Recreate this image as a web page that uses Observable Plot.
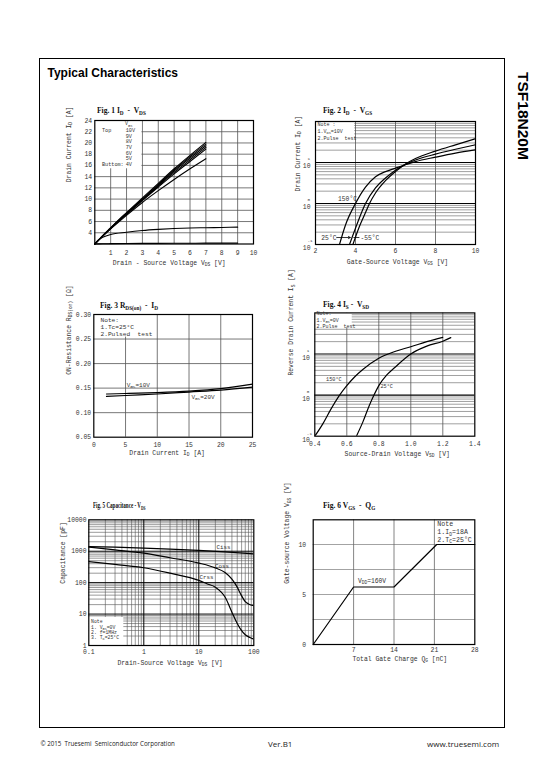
<!DOCTYPE html>
<html><head><meta charset="utf-8">
<script src="https://cdn.jsdelivr.net/npm/d3@7"></script>
<script src="https://cdn.jsdelivr.net/npm/@observablehq/plot@0.6"></script>
<style>
body{margin:0;background:#fff;}
#page{position:relative;width:540px;height:780px;overflow:hidden;background:#fff;}
#border{position:absolute;left:39px;top:57.5px;width:466px;height:670px;border:1.2px solid #000;box-sizing:border-box;}
#title{position:absolute;left:47.5px;top:66.5px;font:bold 12px 'Liberation Sans',Arial,sans-serif;line-height:12px;white-space:nowrap;}
#part{position:absolute;left:515px;top:71.5px;font:bold 15.5px 'Liberation Sans',Arial,sans-serif;line-height:15.5px;writing-mode:vertical-rl;white-space:nowrap;}
.fig{position:absolute;font:bold 8.2px 'Liberation Serif','Times New Roman',serif;line-height:8px;white-space:nowrap;transform:scaleX(0.92);transform-origin:0 50%;color:#111;}
.fig.narrow{transform:scaleX(0.62);}
.fig sub{font-size:70%;vertical-align:-1.5px;line-height:0;}
.foot{position:absolute;font-family:'Open Sans',sans-serif;white-space:nowrap;color:#222;line-height:1;}
</style></head>
<body><div id="page">
<div id="border"></div>
<div id="title">Typical Characteristics</div>
<div id="part">TSF18N20M</div>
<div class="fig" style="left:97px;top:107px">Fig. 1 I<sub>D</sub> &nbsp;- &nbsp;V<sub>DS</sub></div>
<div class="fig" style="left:323px;top:106.5px">Fig. 2 I<sub>D</sub> &nbsp;- &nbsp;V<sub>GS</sub></div>
<div class="fig" style="left:100px;top:301.5px">Fig. 3 R<sub>DS(on)</sub> &nbsp;- &nbsp;I<sub>D</sub></div>
<div class="fig" style="left:323px;top:301px">Fig. 4 I<sub>S</sub> - &nbsp;V<sub>SD</sub></div>
<div class="fig narrow" style="left:93px;top:501.5px">Fig. 5 Capacitance - V<sub>DS</sub></div>
<div class="fig" style="left:323px;top:501.5px">Fig. 6 V<sub>GS</sub> &nbsp;- &nbsp;Q<sub>G</sub></div>
<div class="foot" style="left:40.5px;top:741px;font-size:6.2px">© 2015 &nbsp;Truesemi &nbsp;Semiconductor Corporation</div>
<div class="foot" style="left:268px;top:740px;font-size:8px">Ver.B1</div>
<div class="foot" style="left:427px;top:740px;font-size:8px">www.truesemi.com</div>
</div>
<script>
// ================= DATA =================
// Fig.1  ID - VDS
const f1Vds    = [0, 0.5, 1, 1.5, 2, 3, 4, 5, 6, 7];
const f1Id10V  = [2, 3.5, 4.9, 6.3, 7.6, 10.2, 12.8, 15.4, 17.8, 20.1];
const f1Id9V   = [2, 3.5, 4.85, 6.2, 7.5, 10.05, 12.6, 15.2, 17.55, 19.8];
const f1Id8V   = [2, 3.45, 4.8, 6.15, 7.4, 9.95, 12.45, 15.0, 17.3, 19.5];
const f1Id7V   = [2, 3.45, 4.8, 6.1, 7.35, 9.85, 12.3, 14.75, 17.0, 19.2];
const f1Id6V   = [2, 3.4, 4.75, 6.05, 7.3, 9.75, 12.15, 14.5, 16.7, 18.9];
const f1Id5V   = [2, 3.4, 4.7, 5.9, 7.1, 9.4, 11.5, 13.5, 15.4, 17.2];
const f1VdsLow = [0, 0.25, 0.5, 1, 2, 3, 4, 5, 6, 7, 8, 9];
const f1Id4V   = [2, 2.8, 3.2, 3.7, 4.1, 4.4, 4.6, 4.75, 4.85, 4.9, 4.95, 5.0];
const f1IdOff  = [2, 2.02, 2.04, 2.06, 2.09, 2.11, 2.12, 2.13, 2.14, 2.15, 2.15, 2.15];
const f1Legend = ["10V", "9V", "8V", "7V", "6V", "5V", "4V"];
const f1TicksX = [1, 2, 3, 4, 5, 6, 7, 8, 9, 10];
const f1TicksY = [4, 6, 8, 10, 12, 14, 16, 18, 20, 22, 24];
const f1GridX  = [1, 2, 3, 4, 5, 6, 7, 8, 9];
const f1GridY  = [4, 6, 8, 10, 12, 14, 16, 18, 20, 22];

// Fig.2  ID - VGS
const f2Vgs150  = [3.2, 3.5, 4, 4.5, 5, 5.5, 6, 6.5, 7, 8, 9, 10];
const f2Id150   = [0.1, 0.3, 1.0, 2.5, 4.5, 6.0, 7.3, 8.8, 10.5, 13.5, 17, 20.5];
const f2Vgs25   = [3.7, 4, 4.5, 5, 5.5, 6, 6.5, 7, 8, 9, 10];
const f2Id25    = [0.1, 0.25, 1.0, 2.4, 4.2, 6.5, 9.0, 11.5, 16, 21, 27];
const f2VgsM55  = [3.87, 4.2, 4.5, 4.7, 5, 5.5, 6, 6.5, 7, 8, 9, 10];
const f2IdM55   = [0.1, 0.28, 0.6, 1.0, 1.8, 3.6, 6.0, 9.2, 12.5, 19, 27, 38];
const f2TicksX  = [2, 4, 6, 8, 10];
const f2GridX   = [4, 6, 8];
const f2Decades = [0.1, 1, 10];
const f2Major   = [1, 10];
const f2Minor   = [0.2,0.3,0.4,0.5,0.6,0.7,0.8,0.9, 2,3,4,5,6,7,8,9, 20,30,40,50,60,70,80,90];
const f2Note    = ["Note :", "1.V_{DS}=10V", "2.Pulse  test"];

// Fig.3  RDS(on) - ID
const f3Id     = [2, 5, 10, 15, 20, 25];
const f3R10V   = [0.138, 0.139, 0.141, 0.144, 0.149, 0.158];
const f3R20V   = [0.133, 0.135, 0.138, 0.142, 0.146, 0.152];
const f3TicksX = [0, 5, 10, 15, 20, 25];
const f3TicksY = [0.05, 0.10, 0.15, 0.20, 0.25, 0.30];
const f3GridX  = [5, 10, 15, 20];
const f3GridY  = [0.10, 0.15, 0.20, 0.25];
const f3Note   = ["Note:", "1.Tc=25°C", "2.Pulsed  test"];

// Fig.4  IS - VSD
const f4Vsd150 = [0.4, 0.45, 0.5, 0.555, 0.6, 0.65, 0.7, 0.8, 0.9, 1.0, 1.1, 1.2];
const f4Is150  = [0.1, 0.2, 0.45, 1.0, 1.7, 2.8, 4.2, 7.9, 11.5, 15, 20, 25.5];
const f4Vsd25  = [0.66, 0.7, 0.74, 0.77, 0.8, 0.85, 0.9, 1.0, 1.1, 1.2, 1.25];
const f4Is25   = [0.1, 0.22, 0.55, 1.0, 1.7, 3.1, 4.7, 10, 15.5, 20.5, 25];
const f4TicksX = [0.4, 0.6, 0.8, 1.0, 1.2, 1.4];
const f4GridX  = [0.6, 0.8, 1.0, 1.2];
const f4Decades = [0.1, 1, 10];
const f4Major  = [1, 10];
const f4Minor  = [0.2,0.3,0.4,0.5,0.6,0.7,0.8,0.9, 2,3,4,5,6,7,8,9, 20,30,40,50,60,70,80,90];
const f4Note   = ["Note:", "1.V_{GS}=0V", "2.Pulse  test"];

// Fig.5  Capacitance - VDS
const f5VdsCiss = [0.1, 0.3, 1, 3, 10, 30, 100];
const f5Ciss    = [1410, 1350, 1260, 1170, 1060, 950, 826];
const f5VdsCoss = [0.1, 0.3, 1, 3, 10, 20, 30, 40, 50, 57, 70, 80, 100];
const f5Coss    = [1350, 1100, 870, 620, 420, 295, 210, 130, 72, 45, 25, 21, 18.5];
const f5VdsCrss = [0.1, 0.3, 1, 3, 10, 14, 20, 25, 30, 40, 50, 57, 70, 85, 100];
const f5Crss    = [470, 380, 298, 200, 118, 92, 72, 52, 35, 11.5, 5, 3.4, 2.2, 1.8, 1.6];
const f5TicksX  = [0.1, 1, 10, 100];
const f5TicksY  = [1, 10, 100, 1000, 10000];
const f5MajorX  = [1, 10];
const f5MajorY  = [10, 100, 1000];
const f5MinorX  = [0.2,0.3,0.4,0.5,0.6,0.7,0.8,0.9, 2,3,4,5,6,7,8,9, 20,30,40,50,60,70,80,90];
const f5MinorY  = [2,3,4,5,6,7,8,9, 20,30,40,50,60,70,80,90, 200,300,400,500,600,700,800,900, 2000,3000,4000,5000,6000,7000,8000,9000];
const f5Note    = ["Note", "1. V_{GS}=0V", "2. f=1MHz", "3. T_{C}=25°C"];

// Fig.6  VGS - QG
const f6Qg     = [0, 7, 14, 21.4, 28];
const f6Vgs    = [0, 5.75, 5.75, 10, 10];
const f6TicksX = [7, 14, 21, 28];
const f6TicksY = [0, 5, 10];
const f6GridX  = [7, 14, 21];
const f6GridY  = [2.5, 5, 7.5, 10];
const f6Note   = ["Note", "1.I_{D}=18A", "2.T_{C}=25°C"];

// ================= HELPERS =================
const mono = "'Liberation Mono','DejaVu Sans Mono',monospace";
const baseStyle = {fontFamily: mono, fontSize: "6.4px", color: "#333", background: "transparent", overflow: "visible"};
const ink = "#333";
function layout(S, F) {
  return {width: S.w, height: S.h, marginLeft: F.l - S.x, marginTop: F.t - S.y,
          marginRight: S.x + S.w - F.r, marginBottom: S.y + S.h - F.b};
}
function pairs(xs, ys, s) { return xs.map((x, i) => ({x, y: ys[i], s})); }
function yTitle(t, dx, dy) { return Plot.text([t], {frameAnchor: "left", dx, dy, rotate: -90, text: d => d, fill: ink}); }
function xTitle(t, dx, dy) { return Plot.text([t], {frameAnchor: "bottom", dx, dy, text: d => d, fill: ink}); }
function subify(svg) {
  const NS = "http://www.w3.org/2000/svg";
  svg.querySelectorAll("text").forEach(el => {
    if (el.children.length) return;
    const s = el.textContent;
    if (!s.includes("_{")) return;
    el.textContent = "";
    let down = false;
    s.split(/(_\{[^}]*\})/).forEach(p => {
      if (!p) return;
      const t = document.createElementNS(NS, "tspan");
      if (p.startsWith("_{")) { t.textContent = p.slice(2, -1); t.setAttribute("font-size", "72%"); if (!down) t.setAttribute("dy", "0.3em"); down = true; }
      else { t.textContent = p; if (down) t.setAttribute("dy", "-0.216em"); down = false; }
      el.appendChild(t);
    });
  });
}
function place(svg, S) {
  svg.style.position = "absolute"; svg.style.left = S.x + "px"; svg.style.top = S.y + "px";
  subify(svg);
  document.getElementById("page").appendChild(svg);
}
const frame = () => Plot.frame({stroke: "#000", strokeWidth: 1.2});

// ================= FIG 1 =================
{
  const S = {x: 50, y: 112, w: 215, h: 160}, F = {l: 94.3, t: 120, r: 253, b: 243.5};
  const table = [
    ...pairs(f1Vds, f1Id10V, "10V"), ...pairs(f1Vds, f1Id9V, "9V"), ...pairs(f1Vds, f1Id8V, "8V"),
    ...pairs(f1Vds, f1Id7V, "7V"), ...pairs(f1Vds, f1Id6V, "6V"), ...pairs(f1Vds, f1Id5V, "5V"),
    ...pairs(f1VdsLow, f1Id4V, "4V"), ...pairs(f1VdsLow, f1IdOff, "off")];
  const p = Plot.plot({
    ...layout(S, F), style: baseStyle,
    x: {domain: [0, 10]}, y: {domain: [2, 24]},
    marks: [
      Plot.ruleX(f1GridX, {stroke: "#555", strokeWidth: 0.8}),
      Plot.ruleY(f1GridY, {stroke: "#555", strokeWidth: 0.8}),
      Plot.rect([0], {x1: 0, x2: 2.97, y1: 15.4, y2: 24, fill: "white"}),
      frame(),
      Plot.line(table, {x: "x", y: "y", z: "s", curve: "monotone-x", stroke: "#000", strokeWidth: 1.1}),
      Plot.text(["V_{GS}"], {x: 2.14, y: 23.4, text: d => d, fontSize: 5, fill: ink}),
      Plot.text(["Top"], {x: 0.45, y: 22.26, text: d => d, textAnchor: "start", fontSize: 5.2, fill: ink}),
      Plot.text(["Buttom:"], {x: 0.45, y: 16.22, text: d => d, textAnchor: "start", fontSize: 5.2, fill: ink}),
      Plot.text(f1Legend, {x: 1.95, y: (d, i) => 22.26 - i * 1.006, text: d => d, textAnchor: "start", fontSize: 5.2, fill: ink}),
      Plot.axisX(f1TicksX, {tickSize: 0, tickPadding: 6.3, label: null, fill: ink}),
      Plot.axisY(f1TicksY, {tickSize: 0, tickPadding: 2.6, label: null, fill: ink}),
      yTitle("Drain Current I_{D} [A]", -26, 0),
      xTitle("Drain - Source Voltage V_{DS} [V]", -5, 20.5)
    ]
  });
  place(p, S);
}

// ================= FIG 2 =================
{
  const S = {x: 278, y: 112, w: 210, h: 160}, F = {l: 315, t: 121, r: 475, b: 244};
  const table = [...pairs(f2Vgs150, f2Id150, "150°C"), ...pairs(f2Vgs25, f2Id25, "25°C"), ...pairs(f2VgsM55, f2IdM55, "-55°C")];
  const p = Plot.plot({
    ...layout(S, F), style: baseStyle,
    x: {domain: [2, 10]}, y: {type: "log", domain: [0.1, 100], axis: null},
    marks: [
      Plot.ruleY(f2Minor, {stroke: "#777", strokeWidth: 0.7}),
      Plot.ruleX(f2GridX, {stroke: "#555", strokeWidth: 0.8}),
      Plot.rect([0], {x1: 2, x2: 3.96, y1: 34, y2: 100, fill: "white"}),
      Plot.ruleY(f2Major, {stroke: "#000", strokeWidth: 1.2}),
      frame(),
      Plot.line(table, {x: "x", y: "y", z: "s", curve: "monotone-x", stroke: "#000", strokeWidth: 1.2, clip: true}),
      Plot.text(["150°C"], {x: 3.6, y: 1.3, text: d => d, fontSize: 6.3, fill: ink}),
      Plot.text(["25°C"], {x: 2.67, y: 0.148, text: d => d, fontSize: 6.3, fill: ink}),
      Plot.arrow([0], {x1: 3.06, x2: 3.74, y1: 0.148, y2: 0.148, stroke: "#000", strokeWidth: 0.8, headLength: 4}),
      Plot.ruleY([0.148], {x1: 3.92, x2: 4.22, stroke: "#000", strokeWidth: 0.8}),
      Plot.text(["-55°C"], {x: 4.25, y: 0.148, text: d => d, textAnchor: "start", fontSize: 6.3, fill: ink}),
      Plot.text(f2Note, {x: 2.1, y: (d, i) => [86.5, 58.3, 39.4][i], text: d => d, textAnchor: "start", fontSize: 5, fill: ink}),
      Plot.text(f2Decades, {y: d => d, frameAnchor: "left", dx: -5, dy: 3, text: () => "10", textAnchor: "end", fill: ink}),
      Plot.text(f2Decades, {y: d => d, frameAnchor: "left", dx: -8, dy: -4, text: d => String(Math.round(Math.log10(d))), fontSize: 4.3, fill: ink}),
      Plot.axisX(f2TicksX, {tickSize: 0, tickPadding: 3.8, label: null, fill: ink}),
      yTitle("Drain Current I_{D} [A]", -18, 8.5),
      xTitle("Gate-Source Voltage V_{GS} [V]", 2, 19.3)
    ]
  });
  place(p, S);
}

// ================= FIG 3 =================
{
  const S = {x: 50, y: 306, w: 215, h: 160}, F = {l: 93.3, t: 314, r: 252, b: 436.7};
  const table = [...pairs(f3Id, f3R10V, "10V"), ...pairs(f3Id, f3R20V, "20V")];
  const p = Plot.plot({
    ...layout(S, F), style: baseStyle,
    x: {domain: [0, 25]}, y: {domain: [0.05, 0.30]},
    marks: [
      Plot.ruleX(f3GridX, {stroke: "#555", strokeWidth: 0.8}),
      Plot.ruleY(f3GridY, {stroke: "#555", strokeWidth: 0.8}),
      Plot.rect([0], {x1: 0, x2: 9.6, y1: 0.254, y2: 0.30, fill: "white"}),
      frame(),
      Plot.line(table, {x: "x", y: "y", z: "s", curve: "monotone-x", stroke: "#000", strokeWidth: 1.2}),
      Plot.text(["V_{GS}=10V"], {x: 7.0, y: 0.157, text: d => d, fontSize: 6, fill: ink}),
      Plot.text(["V_{GS}=20V"], {x: 17.2, y: 0.1315, text: d => d, fontSize: 6, fill: ink}),
      Plot.text(f3Note, {x: 1.05, y: (d, i) => [0.289, 0.274, 0.261][i], text: d => d, textAnchor: "start", fontSize: 6.2, fill: ink}),
      Plot.axisX(f3TicksX, {tickSize: 0, tickPadding: 5, label: null, fill: ink}),
      Plot.axisY(f3TicksY, {tickSize: 0, tickPadding: 2.6, label: null, tickFormat: d3.format(".2f"), fill: ink}),
      yTitle("ON-Resistance R_{DS(on)} [Ω]", -25, -1),
      xTitle("Drain Current I_{D} [A]", -6, 17.6)
    ]
  });
  place(p, S);
}

// ================= FIG 4 =================
{
  const S = {x: 278, y: 306, w: 210, h: 160}, F = {l: 314.3, t: 312.4, r: 474.3, b: 435.7};
  const table = [...pairs(f4Vsd150, f4Is150, "150°C"), ...pairs(f4Vsd25, f4Is25, "25°C")];
  const p = Plot.plot({
    ...layout(S, F), style: baseStyle,
    x: {domain: [0.4, 1.4]}, y: {type: "log", domain: [0.1, 100], axis: null},
    marks: [
      Plot.ruleY(f4Minor, {stroke: "#777", strokeWidth: 0.7}),
      Plot.ruleX(f4GridX, {stroke: "#555", strokeWidth: 0.8}),
      Plot.rect([0], {x1: 0.4, x2: 0.634, y1: 43.6, y2: 100, fill: "white"}),
      Plot.ruleY(f4Major, {stroke: "#000", strokeWidth: 1.2}),
      frame(),
      Plot.line(table, {x: "x", y: "y", z: "s", curve: "monotone-x", stroke: "#000", strokeWidth: 1.2, clip: true}),
      Plot.text(["150°C"], {x: 0.519, y: 2.48, text: d => d, fontSize: 5.2, fill: ink}),
      Plot.text(["25°C"], {x: 0.81, y: 1.66, text: d => d, textAnchor: "start", fontSize: 5.2, fill: ink}),
      Plot.text(f4Note, {x: 0.41, y: (d, i) => [95, 65.8, 46.9][i], text: d => d, textAnchor: "start", fontSize: 5, fill: ink}),
      Plot.text(f4Decades, {y: d => d, frameAnchor: "left", dx: -5, dy: 3.5, text: () => "10", textAnchor: "end", fill: ink}),
      Plot.text(f4Decades, {y: d => d, frameAnchor: "left", dx: -8, dy: -3, text: d => String(Math.round(Math.log10(d))), fontSize: 4.3, fill: ink}),
      Plot.axisX(f4TicksX, {tickSize: 0, tickPadding: 5.4, label: null, tickFormat: d3.format(".1f"), fill: ink}),
      yTitle("Reverse Drain Current I_{S} [A]", -23.6, 1),
      xTitle("Source-Drain Voltage V_{SD} [V]", 2.4, 19.3)
    ]
  });
  place(p, S);
}

// ================= FIG 5 =================
{
  const S = {x: 50, y: 512, w: 215, h: 165}, F = {l: 88.3, t: 519.3, r: 253.3, b: 645};
  const table = [...pairs(f5VdsCiss, f5Ciss, "Ciss"), ...pairs(f5VdsCoss, f5Coss, "Coss"), ...pairs(f5VdsCrss, f5Crss, "Crss")];
  const p = Plot.plot({
    ...layout(S, F), style: baseStyle,
    x: {type: "log", domain: [0.1, 100]}, y: {type: "log", domain: [1, 10000]},
    marks: [
      Plot.ruleX(f5MinorX, {stroke: "#555", strokeWidth: 0.6}),
      Plot.ruleY(f5MinorY, {stroke: "#555", strokeWidth: 0.6}),
      Plot.ruleX(f5MajorX, {stroke: "#000", strokeWidth: 1}),
      Plot.ruleY(f5MajorY, {stroke: "#000", strokeWidth: 1}),
      Plot.rect([0], {x1: 0.1, x2: 0.433, y1: 1, y2: 7.8, fill: "white"}),
      frame(),
      Plot.line(table, {x: "x", y: "y", z: "s", curve: "monotone-x", stroke: "#000", strokeWidth: 1.2, clip: true}),
      Plot.text(["Ciss", "Coss", "Crss"], {x: (d, i) => [28.1, 26.3, 13.8][i], y: (d, i) => [1350, 328, 150][i], text: d => d, fontSize: 5.8, fill: ink}),
      Plot.text(f5Note, {x: 0.11, y: (d, i) => [5.8, 3.83, 2.65, 1.84][i], text: d => d, textAnchor: "start", fontSize: 4.8, fill: ink}),
      Plot.axisX(f5TicksX, {tickSize: 0, tickPadding: 3.8, label: null, tickFormat: d => String(d), fill: ink}),
      Plot.axisY(f5TicksY, {tickSize: 0, tickPadding: 2.3, label: null, tickFormat: d => String(d), fill: ink}),
      yTitle("Capacitance [pF]", -25.6, 1),
      xTitle("Drain-Source Voltage V_{DS} [V]", -1.3, 19)
    ]
  });
  place(p, S);
}

// ================= FIG 6 =================
{
  const S = {x: 278, y: 512, w: 210, h: 160}, F = {l: 312.7, t: 519.3, r: 474.3, b: 644};
  const p = Plot.plot({
    ...layout(S, F), style: baseStyle,
    x: {domain: [0, 28]}, y: {domain: [0, 12.47]},
    marks: [
      Plot.ruleY(f6GridY, {stroke: "#999", strokeWidth: 0.9}),
      Plot.ruleX(f6GridX, {stroke: "#666", strokeWidth: 0.8}),
      frame(),
      Plot.line(pairs(f6Qg, f6Vgs, "VGS"), {x: "x", y: "y", stroke: "#000", strokeWidth: 1.2}),
      Plot.text(["V_{DD}=160V"], {x: 10.2, y: 6.4, text: d => d, fontSize: 6.3, fill: ink}),
      Plot.text(f6Note, {x: 21.5, y: (d, i) => [12.07, 11.23, 10.5][i], text: d => d, textAnchor: "start", fontSize: 6.6, fill: ink}),
      Plot.axisX(f6TicksX, {tickSize: 0, tickPadding: 3.3, label: null, fill: ink}),
      Plot.axisY(f6TicksY, {tickSize: 0, tickPadding: 7, label: null, fill: ink}),
      yTitle("Gate-source Voltage V_{GS} [V]", -26, 1.6),
      xTitle("Total Gate Charge Q_{G} [nC]", 5.8, 16.2)
    ]
  });
  place(p, S);
}
</script>
</body></html>
